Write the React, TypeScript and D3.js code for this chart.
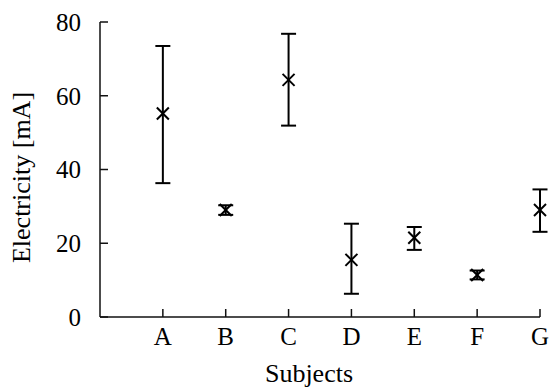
import React from "react";
import * as d3 from "d3";

const categories = ["A", "B", "C", "D", "E", "F", "G"];
const means = [55.2, 29.0, 64.3, 15.5, 21.5, 11.4, 29.0];
const lowers = [36.3, 27.7, 51.9, 6.3, 18.2, 10.2, 23.1];
const uppers = [73.5, 30.3, 76.8, 25.3, 24.4, 12.6, 34.6];
const yTicks = [0, 20, 40, 60, 80];

const W = 553;
const H = 389;
const left = 100;
const right = 540;
const top = 22;
const bottom = 317;

export default function App() {
  const x = d3.scaleLinear().domain([0, categories.length]).range([left, right]);
  const y = d3.scaleLinear().domain([0, 80]).range([bottom, top]);
  const font = "'Liberation Serif', 'Times New Roman', serif";
  const stroke = "#111";
  const m = 6;
  const cap = 7.5;
  return (
    <svg
      width={W}
      height={H}
      style={{ position: "absolute", left: 0, top: 0, background: "#fff" }}
    >
      {/* axes */}
      <line x1={left} x2={left} y1={top} y2={bottom} stroke={stroke} strokeWidth={1.5} />
      <line x1={left} x2={right} y1={bottom} y2={bottom} stroke={stroke} strokeWidth={1.5} />
      {yTicks.map((t) => (
        <g key={t}>
          <line x1={left} x2={left + 8} y1={y(t)} y2={y(t)} stroke={stroke} strokeWidth={1.5} />
          <text
            x={left - 19}
            y={y(t)}
            dy="0.35em"
            textAnchor="end"
            fontFamily={font}
            fontSize={25}
            fill="#000"
          >
            {t}
          </text>
        </g>
      ))}
      {categories.map((c, i) => (
        <g key={c}>
          <line
            x1={x(i + 1)}
            x2={x(i + 1)}
            y1={bottom}
            y2={bottom - 8}
            stroke={stroke}
            strokeWidth={1.5}
          />
          <text
            x={x(i + 1)}
            y={345}
            textAnchor="middle"
            fontFamily={font}
            fontSize={25}
            fill="#000"
          >
            {c}
          </text>
        </g>
      ))}
      {/* error bars */}
      {categories.map((c, i) => {
        const cx = x(i + 1);
        const cy = y(means[i]);
        const y1 = y(uppers[i]);
        const y2 = y(lowers[i]);
        return (
          <g key={"e" + c} stroke="#000" strokeWidth={2}>
            <line x1={cx} x2={cx} y1={y1} y2={y2} />
            <line x1={cx - cap} x2={cx + cap} y1={y1} y2={y1} />
            <line x1={cx - cap} x2={cx + cap} y1={y2} y2={y2} />
            <line x1={cx - m} x2={cx + m} y1={cy - m} y2={cy + m} />
            <line x1={cx - m} x2={cx + m} y1={cy + m} y2={cy - m} />
          </g>
        );
      })}
      <text
        x={309}
        y={382}
        textAnchor="middle"
        fontFamily={font}
        fontSize={26}
        fill="#000"
      >
        Subjects
      </text>
      <text
        transform={`translate(30, ${(top + bottom) / 2 + 8}) rotate(-90)`}
        textAnchor="middle"
        fontFamily={font}
        fontSize={26}
        fill="#000"
      >
        Electricity [mA]
      </text>
    </svg>
  );
}
